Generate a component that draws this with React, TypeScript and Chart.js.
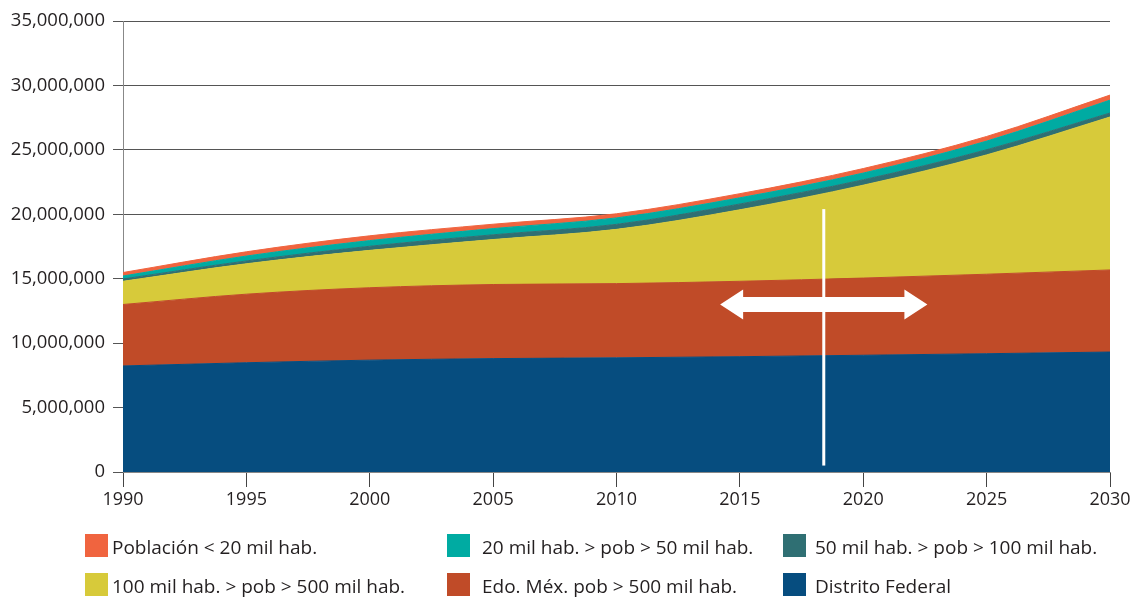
import { useEffect, useRef } from 'react';
import { Chart, registerables } from 'chart.js';

Chart.register(...registerables);

// ---- data ----
const years = [1990, 1995, 2000, 2005, 2010, 2015, 2020, 2025, 2030];
const distritoFederal = [8230000, 8480000, 8680000, 8800000, 8860000, 8950000, 9060000, 9180000, 9310000];
const edoMexMas500 = [4770000, 5320000, 5620000, 5750000, 5760000, 5850000, 5990000, 6170000, 6370000];
const pob100a500 = [1800000, 2360000, 2900000, 3490000, 4210000, 5550000, 7210000, 9260000, 11870000];
const pob50a100 = [180000, 220000, 320000, 370000, 390000, 450000, 420000, 400000, 310000];
const pob20a50 = [230000, 380000, 440000, 480000, 500000, 480000, 520000, 670000, 1000000];
const pobMenor20 = [270000, 330000, 370000, 340000, 320000, 320000, 350000, 360000, 390000];

const seriesLabels = [
  'Distrito Federal',
  'Edo. Méx. pob > 500 mil hab.',
  '100 mil hab. > pob > 500 mil hab.',
  '50 mil hab. > pob > 100 mil hab.',
  '20 mil hab. > pob > 50 mil hab.',
  'Población < 20 mil hab.',
];
const seriesValues = [distritoFederal, edoMexMas500, pob100a500, pob50a100, pob20a50, pobMenor20];

// annotation (data units)
const markerYear = 2018.4;
const markerTop = 20400000;
const markerBottom = 500000;
const arrowFromYear = 2014.2;
const arrowToYear = 2022.6;
const arrowLevel = 13000000;

// ---- styles ----
const seriesColors = ['#064D7F', '#C04B28', '#D7CA3A', '#2F6F73', '#00ABA2', '#F0643F'];
const legendOrder = [5, 4, 3, 2, 1, 0];
const legendCols = [
  { box: 85, text: 112 },
  { box: 447, text: 482 },
  { box: 783, text: 815 },
];
const legendRows = [{ box: 534, text: 538 }, { box: 573, text: 577 }];
const textColor = '#231f20';
const FONT = "'Open Sans', 'Noto Sans', sans-serif";

const annotationPlugin = {
  id: 'arrowAnnotation',
  afterDatasetsDraw(chart: any) {
    const { ctx, scales } = chart;
    const x = scales.x, y = scales.y;
    ctx.save();
    ctx.fillStyle = '#ffffff';
    const mx = x.getPixelForValue(markerYear);
    const yt = y.getPixelForValue(markerTop);
    const yb = y.getPixelForValue(markerBottom);
    ctx.fillRect(mx - 1.5, yt, 3, yb - yt);
    const x1 = x.getPixelForValue(arrowFromYear);
    const x2 = x.getPixelForValue(arrowToYear);
    const yc = y.getPixelForValue(arrowLevel);
    const hl = 23, hh = 15, sh = 7.5;
    ctx.beginPath();
    ctx.moveTo(x1, yc);
    ctx.lineTo(x1 + hl, yc - hh);
    ctx.lineTo(x1 + hl, yc - sh);
    ctx.lineTo(x2 - hl, yc - sh);
    ctx.lineTo(x2 - hl, yc - hh);
    ctx.lineTo(x2, yc);
    ctx.lineTo(x2 - hl, yc + hh);
    ctx.lineTo(x2 - hl, yc + sh);
    ctx.lineTo(x1 + hl, yc + sh);
    ctx.lineTo(x1 + hl, yc + hh);
    ctx.closePath();
    ctx.fill();
    ctx.restore();
  },
};

export default function App() {
  const ref = useRef<HTMLCanvasElement>(null);

  useEffect(() => {
    document.body.style.margin = '0';
    const chart = new Chart(ref.current as HTMLCanvasElement, {
      type: 'line',
      data: {
        datasets: seriesValues.map((vals, i) => ({
          label: seriesLabels[i],
          data: vals.map((v, j) => ({ x: years[j], y: v })),
          backgroundColor: seriesColors[i],
          borderColor: seriesColors[i],
          borderWidth: 1,
          pointRadius: 0,
          fill: i === 0 ? 'origin' : '-1',
          cubicInterpolationMode: 'monotone' as const,
        })),
      },
      options: {
        animation: false,
        responsive: false,
        layout: { padding: { top: 21, right: 21, bottom: 0, left: 0 } },
        plugins: { legend: { display: false }, tooltip: { enabled: false } },
        scales: {
          x: {
            type: 'linear',
            min: 1990,
            max: 2030,
            afterFit: (s: any) => { s.height = 126; s.paddingLeft = 0; s.paddingRight = 0; },
            ticks: {
              stepSize: 5,
              padding: 2,
              color: textColor,
              font: { family: FONT, size: 18 },
              callback: (v: any) => String(v),
              maxRotation: 0,
            },
            grid: { drawOnChartArea: false, drawTicks: true, tickLength: 15, color: '#444' },
            border: { color: '#888' },
          },
          y: {
            stacked: true,
            min: 0,
            max: 35000000,
            afterFit: (s: any) => { s.width = 123; },
            ticks: {
              stepSize: 5000000,
              padding: 8,
              color: textColor,
              font: { family: FONT, size: 18.5 },
              callback: (v: any) => Number(v).toLocaleString('en-US'),
            },
            grid: { color: '#555', tickLength: 10 },
            border: { color: '#888' },
          },
        },
      },
      plugins: [annotationPlugin],
    });
    return () => chart.destroy();
  }, []);

  return (
    <div style={{ position: 'relative', width: 1131, height: 598, overflow: 'hidden', fontFamily: FONT, color: textColor }}>
      <canvas ref={ref} width={1131} height={598} style={{ display: 'block' }} />
      {legendOrder.map((si, k) => {
        const col = legendCols[k % 3];
        const row = legendRows[Math.floor(k / 3)];
        return (
          <div key={si}>
            <div style={{ position: 'absolute', left: col.box, top: row.box, width: 23, height: 23, background: seriesColors[si] }} />
            <div style={{ position: 'absolute', left: col.text, top: row.text, fontSize: 19, lineHeight: '19px', whiteSpace: 'nowrap' }}>
              {seriesLabels[si]}
            </div>
          </div>
        );
      })}
    </div>
  );
}
